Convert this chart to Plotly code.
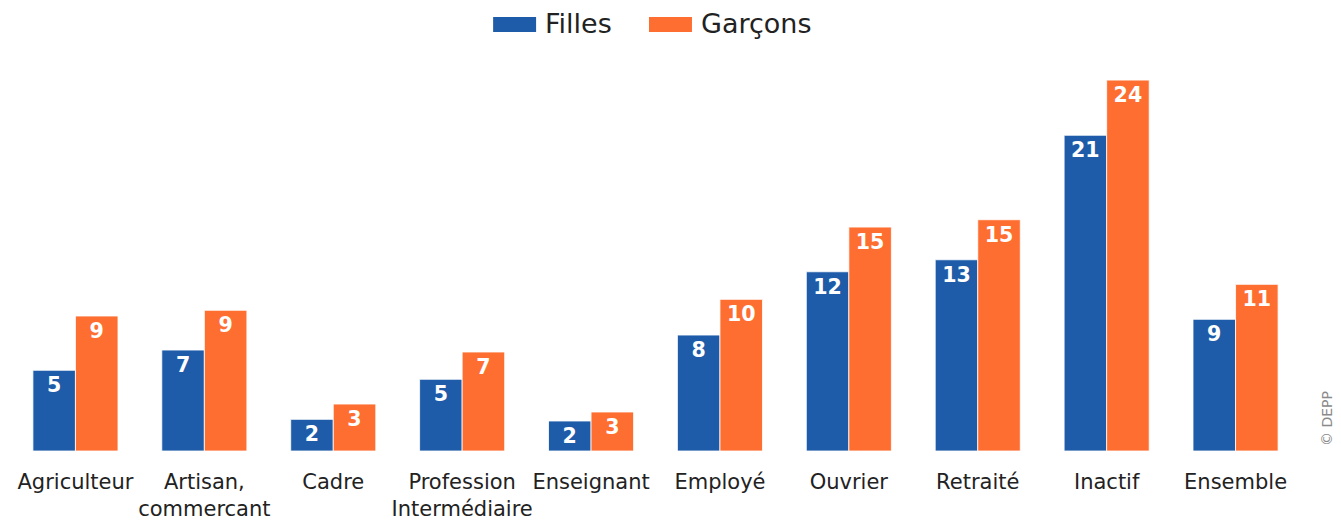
import plotly.graph_objects as go

categories = ["Agriculteur", "Artisan,<br>commercant", "Cadre", "Profession<br>Intermédiaire",
              "Enseignant", "Employé", "Ouvrier", "Retraité", "Inactif", "Ensemble"]
filles = [5.38, 6.73, 2.11, 4.78, 2.0, 7.73, 11.95, 12.75, 21.05, 8.78]
garcons = [9.0, 9.38, 3.13, 6.6, 2.6, 10.11, 14.93, 15.42, 24.73, 11.11]
filles_labels = ["5", "7", "2", "5", "2", "8", "12", "13", "21", "9"]
garcons_labels = ["9", "9", "3", "7", "3", "10", "15", "15", "24", "11"]
series_names = ["Filles", "Garçons"]

BLUE = "#1e5ba8"
ORANGE = "#fe6e30"
FONT = "DejaVu Sans"
TEXT = "#222222"

# page body offset (browser default margin)
OFF = 8

fig = go.Figure()
for name, vals, labs, col in [(series_names[0], filles, filles_labels, BLUE),
                              (series_names[1], garcons, garcons_labels, ORANGE)]:
    fig.add_trace(go.Bar(
        name=name, x=categories, y=vals, text=labs,
        marker=dict(color=col, line=dict(color="white", width=0.8)),
        textposition="inside", insidetextanchor="end", textangle=0,
        textfont=dict(family=FONT, size=24, color="white", weight="bold"),
        showlegend=False,
    ))

W, H = 1341, 521
# desired plot area in page pixels: x 10.5..1300.5, y 60..451
ml = 10.5 - OFF
mr = W - (1300.5 - OFF)
mt = 60 - OFF
mb = H - (451 - OFF)
pw, ph = W - ml - mr, H - mt - mb

def px_to_paper_x(px):
    return (px - OFF - ml) / pw

def px_to_paper_y(py):
    return (H - mb - (py - OFF)) / ph

shapes = []
annotations = []
legend_items = [(series_names[0], BLUE, 493), (series_names[1], ORANGE, 649)]
for name, col, x0 in legend_items:
    shapes.append(dict(type="rect", xref="paper", yref="paper",
                       x0=px_to_paper_x(x0), x1=px_to_paper_x(x0 + 43),
                       y0=px_to_paper_y(32), y1=px_to_paper_y(17),
                       fillcolor=col, line=dict(width=0)))
    annotations.append(dict(text=name, xref="paper", yref="paper",
                            x=px_to_paper_x(x0 + 50), y=px_to_paper_y(24),
                            xanchor="left", yanchor="middle", showarrow=False,
                            font=dict(family=FONT, size=27, color=TEXT)))

annotations.append(dict(text="© DEPP", xref="paper", yref="paper",
                        x=px_to_paper_x(1327), y=px_to_paper_y(448),
                        xanchor="center", yanchor="bottom", textangle=-90,
                        showarrow=False, font=dict(family=FONT, size=14, color="#8a8a8a")))

fig.update_layout(
    width=W, height=H,
    margin=dict(l=ml, r=mr, t=mt, b=mb, autoexpand=False),
    paper_bgcolor="white", plot_bgcolor="white",
    barmode="group", bargap=0.34, bargroupgap=0.0,
    uniformtext=dict(minsize=10, mode="show"),
    font=dict(family=FONT, color=TEXT),
    xaxis=dict(showgrid=False, showline=False, zeroline=False, ticks="",
               automargin=False, ticklabelstandoff=16, tickangle=0,
               tickfont=dict(family=FONT, size=21, color=TEXT)),
    yaxis=dict(range=[0, 26.07], showgrid=False, showline=False, zeroline=False,
               showticklabels=False, ticks="", automargin=False),
    shapes=shapes,
    annotations=annotations,
)

fig.write_html("out.html")
